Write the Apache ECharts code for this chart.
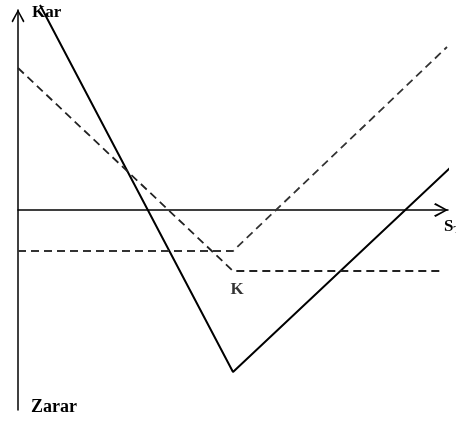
<!DOCTYPE html>
<html>
<head>
<meta charset="utf-8">
<script src="https://cdn.jsdelivr.net/npm/echarts@6/dist/echarts.min.js"></script>
<style>
  html, body { margin: 0; padding: 0; background: #fff; }
  #chart { width: 456px; height: 421px; }
</style>
</head>
<body>
<div id="chart"></div>
<script>
// payoff lines, x = price, y = profit (arbitrary units)
const solidLine = [[22, 205], [215, -162], [432, 42]];
const dashedLine = [[0, 142], [215, -61], [425, -61]];
const dashDotLine = [[0, -41], [215, -41], [429, 163]];
const strikePoint = [215, -61];

const chart = echarts.init(document.getElementById('chart'));

// open chevron arrow head
const arrowPath = 'path://M5,0 L10,9 L9,10 L5,2.2 L1,10 L0,9 Z';
const serif = '"Liberation Serif", "DejaVu Serif", serif';

const option = {
    animation: false,
    grid: { left: 18, right: 8, top: 10, bottom: 11, containLabel: false },
    xAxis: {
        type: 'value',
        min: 0,
        max: 430,
        axisLine: {
            show: true,
            onZero: true,
            symbol: ['none', arrowPath],
            symbolSize: [14, 14],
            symbolOffset: [0, -7],
            lineStyle: { color: '#000', width: 1.5 },
        },
        axisTick: { show: false },
        axisLabel: { show: false },
        splitLine: { show: false },
    },
    yAxis: {
        type: 'value',
        min: -200,
        max: 200,
        axisLine: {
            show: true,
            onZero: false,
            symbol: ['none', arrowPath],
            symbolSize: [16, 13],
            symbolOffset: [0, -6],
            lineStyle: { color: '#000', width: 1.5 },
        },
        axisTick: { show: false },
        axisLabel: { show: false },
        splitLine: { show: false },
    },
    series: [
        {
            type: 'line',
            data: solidLine,
            symbol: 'none',
            clip: false,
            lineStyle: { color: '#000', width: 2 },
        },
        {
            type: 'line',
            data: dashedLine,
            symbol: 'none',
            lineStyle: { color: '#222', width: 1.8, type: [8, 5] },
        },
        {
            type: 'line',
            data: dashDotLine,
            symbol: 'none',
            lineStyle: { color: '#333', width: 1.8, type: [8, 5] },
        },
        {
            type: 'scatter',
            data: [strikePoint],
            symbolSize: 0,
            label: {
                show: true,
                formatter: 'K',
                position: 'bottom',
                distance: 10,
                offset: [4, 0],
                color: '#000',
                fontFamily: serif,
                fontWeight: 'bold',
                fontSize: 17,
            },
        },
    ],
    graphic: [
        {
            type: 'text', left: 32, top: 4,
            style: { text: 'Kar', fill: '#000', font: 'bold 17px ' + serif },
        },
        {
            type: 'text', left: 31, top: 398,
            style: { text: 'Zarar', fill: '#000', font: 'bold 18px ' + serif },
        },
        {
            type: 'text', left: 444, top: 218,
            style: {
                text: '{s|S}{t|T}',
                rich: {
                    s: { fill: '#000', font: 'bold 17px ' + serif },
                    t: { fill: '#000', font: 'bold 11px ' + serif, padding: [8, 0, 0, 0] },
                },
            },
        },
    ],
};

chart.setOption(option);
</script>
</body>
</html>
